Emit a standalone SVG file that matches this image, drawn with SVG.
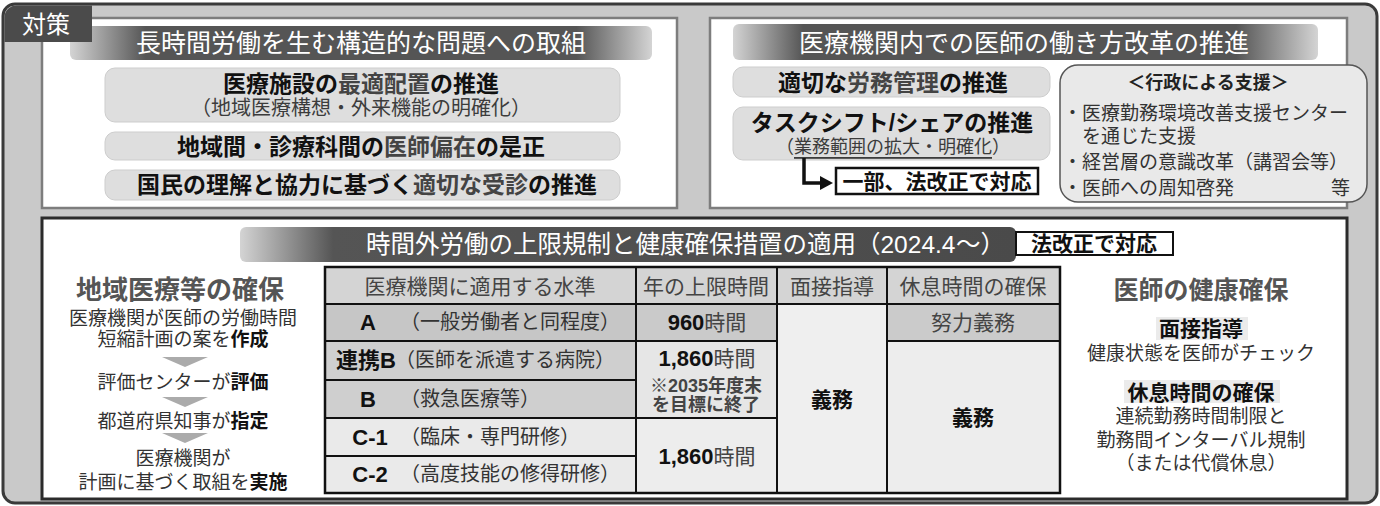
<svg xmlns="http://www.w3.org/2000/svg" width="1380" height="506" viewBox="0 0 1380 506">
<defs>
<linearGradient id="gTL" gradientUnits="userSpaceOnUse" x1="70" y1="0" x2="652" y2="0">
<stop offset="0" stop-color="#d4d4d4"/><stop offset="0.13" stop-color="#555"/><stop offset="0.87" stop-color="#555"/><stop offset="1" stop-color="#d4d4d4"/>
</linearGradient>
<linearGradient id="gTR" gradientUnits="userSpaceOnUse" x1="733" y1="0" x2="1318" y2="0">
<stop offset="0" stop-color="#d4d4d4"/><stop offset="0.12" stop-color="#555"/><stop offset="0.86" stop-color="#555"/><stop offset="1" stop-color="#d4d4d4"/>
</linearGradient>
<linearGradient id="gB" gradientUnits="userSpaceOnUse" x1="240" y1="0" x2="1016" y2="0">
<stop offset="0" stop-color="#d4d4d4"/><stop offset="0.12" stop-color="#555"/><stop offset="1" stop-color="#4a4a4a"/>
</linearGradient>
<marker id="ah" markerUnits="userSpaceOnUse" markerWidth="14" markerHeight="14" refX="2" refY="7" orient="auto">
<path d="M0,0 L13,7 L0,14 Z" fill="#111"/>
</marker>
</defs>
<style>
text{font-family:"Liberation Sans","Noto Sans CJK JP","Noto Sans CJK SC",sans-serif;dominant-baseline:central}
.m{text-anchor:middle}
.b{font-weight:700}
.ttl{fill:#fff;font-size:25px;text-anchor:middle}
.box{fill:#dedede;stroke:#cdcdcd;stroke-width:1}
.big{font-size:23px;font-weight:700;fill:#111;text-anchor:middle}
.g{fill:#444}
.sub{fill:#3c3c3c}
.panel{fill:#fff;stroke:#7d7d7d;stroke-width:2.5}
.hd{font-size:21px;fill:#444;text-anchor:middle}
.lb{font-size:22px;font-weight:700;fill:#111}
.ds{font-size:20px;fill:#333}
.tx{font-size:19px;fill:#333}
.grid{stroke:#111;stroke-width:2;fill:none}
</style>

<g id="frame">
<rect x="3" y="4" width="1374" height="499" rx="12" fill="#c9c9c9" stroke="#3a3a3a" stroke-width="3"/>
</g>

<g id="panel-structural">
<rect class="panel" x="42" y="18" width="635" height="190"/>
<rect x="70" y="26" width="582" height="34" rx="6" fill="url(#gTL)"/>
<text class="ttl" x="361" y="43">長時間労働を生む構造的な問題への取組</text>
<g id="node-placement">
<rect class="box" x="105" y="68" width="515" height="54" rx="10"/>
<text class="big" x="361" y="84">医療施設の<tspan class="g">最適配置</tspan>の推進</text>
<text class="m sub" x="361" y="108" style="font-size:20px">（地域医療構想・外来機能の明確化）</text>
</g>
<g id="node-maldistribution">
<rect class="box" x="105" y="132" width="515" height="28" rx="10"/>
<text class="big" x="361" y="147">地域間・診療科間の<tspan class="g">医師偏在</tspan>の是正</text>
</g>
<g id="node-consultation">
<rect class="box" x="105" y="170" width="515" height="30" rx="10"/>
<text class="big" x="367" y="185">国民の理解と協力に基づく<tspan class="g">適切な受診</tspan>の推進</text>
</g>
</g>

<g id="tab">
<path d="M4.5,42 V17 A12,12 0 0 1 16.5,5.5 H92 V42 Z" fill="#4b4b4b"/>
<text x="46" y="24" class="m" style="font-size:24px;fill:#fff">対策</text>
</g>

<g id="panel-workstyle">
<rect class="panel" x="710" y="18" width="637" height="190"/>
<rect x="733" y="24" width="585" height="36" rx="6" fill="url(#gTR)"/>
<text class="ttl" x="1024" y="43">医療機関内での医師の働き方改革の推進</text>
<g id="node-labor-mgmt">
<rect class="box" x="733" y="67" width="317" height="30" rx="10"/>
<text class="big" x="893" y="83">適切な<tspan class="g">労務管理</tspan>の推進</text>
</g>
<g id="node-taskshift">
<rect class="box" x="733" y="107" width="317" height="53" rx="10"/>
<text class="big" x="892" y="123">タスクシフト/シェアの推進</text>
<text class="m sub" x="893" y="147" style="font-size:18px">（<tspan style="text-decoration:underline">業務範囲の拡大・明確化</tspan>）</text>
</g>
<g id="node-lawrev1">
<rect x="836" y="168" width="202" height="26" fill="#fff" stroke="#111" stroke-width="2.5"/>
<text class="m b" x="937" y="181" style="font-size:21px;fill:#111">一部、法改正で対応</text>
</g>
<g id="node-support">
<rect x="1060" y="65" width="307" height="137" rx="18" fill="#e9e9e9" stroke="#555" stroke-width="1.5"/>
<text class="m b" x="1208" y="83" style="font-size:18px;fill:#222">＜行政による支援＞</text>
<text class="tx" x="1063" y="113">・医療勤務環境改善支援センター</text>
<text class="tx" x="1082" y="136">を通じた支援</text>
<text class="tx" x="1063" y="162">・経営層の意識改革（講習会等）</text>
<text class="tx" x="1063" y="188">・医師への周知啓発</text>
<text class="tx" x="1350" y="188" style="text-anchor:end">等</text>
</g>
</g>

<g id="panel-overtime">
<rect x="42" y="218" width="1305" height="281" fill="#fff" stroke="#2b2b2b" stroke-width="3"/>
<rect x="240" y="227" width="776" height="35" rx="6" fill="url(#gB)"/>
<text x="366" y="244" style="font-size:24.5px;fill:#fff">時間外労働の上限規制と健康確保措置の適用（2024.4<tspan x="956">～）</tspan></text>
<g id="node-lawrev2">
<rect x="1016" y="232" width="157" height="23" fill="#fff" stroke="#111" stroke-width="2"/>
<text class="m b" x="1094" y="243" style="font-size:21px;fill:#111">法改正で対応</text>
</g>

<g id="node-regional">
<text class="m b" x="180" y="290" style="font-size:26px;fill:#555">地域医療等の確保</text>
<text class="m tx" x="183" y="318">医療機関が医師の労働時間</text>
<text class="m tx" x="183" y="339">短縮計画の案を<tspan class="b" fill="#111">作成</tspan></text>
<text class="m tx" x="183" y="382">評価センターが<tspan class="b" fill="#111">評価</tspan></text>
<text class="m tx" x="183" y="421">都道府県知事が<tspan class="b" fill="#111">指定</tspan></text>
<text class="m tx" x="183" y="458">医療機関が</text>
<text class="m tx" x="183" y="482">計画に基づく取組を<tspan class="b" fill="#111">実施</tspan></text>
</g>

<g id="table">
<rect x="325" y="267" width="735" height="37" fill="#d4d4d4"/>
<rect x="325" y="304" width="311" height="37" fill="#c6c6c6"/>
<rect x="636" y="304" width="141" height="37" fill="#cacaca"/>
<rect x="887" y="304" width="173" height="37" fill="#cbcbcb"/>
<rect x="325" y="341" width="311" height="77" fill="#cfcfcf"/>
<rect x="636" y="341" width="141" height="77" fill="#e6e6e6"/>
<rect x="325" y="418" width="311" height="75" fill="#eaeaea"/>
<rect x="636" y="418" width="141" height="75" fill="#ededed"/>
<rect x="777" y="304" width="110" height="189" fill="#efefef"/>
<rect x="887" y="341" width="173" height="152" fill="#ededed"/>
<path class="grid" d="M325,304 H1060 M325,341 H777 M887,341 H1060 M325,380 H636 M325,418 H777 M325,456 H636 M636,267 V493 M777,267 V493 M887,267 V493"/>
<rect x="325" y="267" width="735" height="226" fill="none" stroke="#111" stroke-width="2.5"/>
<text class="hd" x="480" y="286">医療機関に適用する水準</text>
<text class="hd" x="706" y="286">年の上限時間</text>
<text class="hd" x="832" y="286">面接指導</text>
<text class="hd" x="973" y="286">休息時間の確保</text>
<text class="lb m" x="368" y="322">A</text>
<text class="ds" x="400" y="322">（一般労働者と同程度）</text>
<text class="lb" x="336" y="360">連携B</text>
<text class="ds" x="395" y="360">（医師を派遣する病院）</text>
<text class="lb m" x="368" y="399">B</text>
<text class="ds" x="400" y="399">（救急医療等）</text>
<text class="lb m" x="370" y="437">C-1</text>
<text class="ds" x="400" y="437">（臨床・専門研修）</text>
<text class="lb m" x="370" y="474">C-2</text>
<text class="ds" x="400" y="474">（高度技能の修得研修）</text>
<text class="m" x="707" y="322" style="font-size:22px;font-weight:700;fill:#111">960<tspan style="font-size:21px;font-weight:400;fill:#444">時間</tspan></text>
<text class="m" x="707" y="358" style="font-size:22px;font-weight:700;fill:#111">1,860<tspan style="font-size:21px;font-weight:400;fill:#444">時間</tspan></text>
<text class="m b" x="706" y="386" style="font-size:18px;fill:#444">※2035年度末</text>
<text class="m b" x="706" y="405" style="font-size:18px;fill:#444">を目標に終了</text>
<text class="m" x="707" y="456" style="font-size:22px;font-weight:700;fill:#111">1,860<tspan style="font-size:21px;font-weight:400;fill:#444">時間</tspan></text>
<text class="m b" x="832" y="399" style="font-size:21px;fill:#111">義務</text>
<text class="hd" x="973" y="322">努力義務</text>
<text class="m b" x="973" y="417" style="font-size:21px;fill:#111">義務</text>
</g>

<g id="node-health">
<text class="m b" x="1201" y="290" style="font-size:25px;fill:#555">医師の健康確保</text>
<rect x="1156" y="317" width="92" height="23" fill="#ebebeb"/>
<text class="m b" x="1201" y="328" style="font-size:21px;fill:#111">面接指導</text>
<text class="m tx" x="1201" y="353">健康状態を医師がチェック</text>
<rect x="1124" y="380" width="156" height="23" fill="#ebebeb"/>
<text class="m b" x="1201" y="392" style="font-size:21px;fill:#111">休息時間の確保</text>
<text class="m tx" x="1201" y="416">連続勤務時間制限と</text>
<text class="m tx" x="1201" y="440">勤務間インターバル規制</text>
<text class="m tx" x="1201" y="463">（または代償休息）</text>
</g>
</g>

<g id="connectors">
<path d="M804,158 V183 H822" fill="none" stroke="#111" stroke-width="3.5" marker-end="url(#ah)"/>
<polygon points="162,357 208,357 185,367" fill="#ababab"/>
<polygon points="162,397 208,397 185,407" fill="#ababab"/>
<polygon points="162,433 208,433 185,443" fill="#ababab"/>
</g>
</svg>
